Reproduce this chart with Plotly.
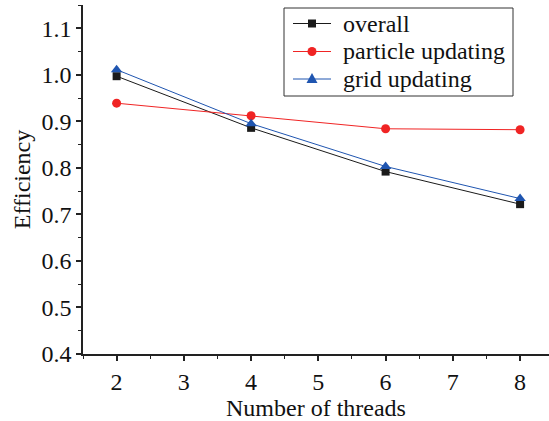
import plotly.graph_objects as go

threads = [2, 4, 6, 8]
overall = [0.997, 0.886, 0.792, 0.722]
particle_updating = [0.939, 0.912, 0.884, 0.882]
grid_updating = [1.011, 0.895, 0.803, 0.734]

series_names = ["overall", "particle updating", "grid updating"]
series_colors = ["#1a1a1a", "#f02424", "#1f55b0"]
series_symbols = ["square", "circle", "triangle-up"]

x_ticks = [2, 3, 4, 5, 6, 7, 8]
y_ticks = [0.4, 0.5, 0.6, 0.7, 0.8, 0.9, 1.0, 1.1]
y_tick_text = ["0.4", "0.5", "0.6", "0.7", "0.8", "0.9", "1.0", "1.1"]

FONT = "Liberation Serif, Times New Roman, serif"
AXIS_COLOR = "#222222"
TEXT_COLOR = "#111111"

W, H = 549, 421
M_L, M_R, M_T, M_B = 83, 0, 5, 67
PLOT_W = W - M_L - M_R
PLOT_H = H - M_T - M_B


def px(xp):
    """Pixel column -> paper x."""
    return (xp - M_L) / PLOT_W


def py(yp):
    """Pixel row -> paper y."""
    return (H - M_B - yp) / PLOT_H


fig = go.Figure()
series_values = [overall, particle_updating, grid_updating]
marker_sizes = [8, 9, 10]
for name, vals, color, sym, size in zip(series_names, series_values, series_colors,
                                        series_symbols, marker_sizes):
    fig.add_trace(go.Scatter(
        x=threads, y=vals, name=name, mode="lines+markers",
        line=dict(color=color, width=1),
        marker=dict(symbol=sym, size=size, color=color),
        showlegend=False,
    ))

axis_common = dict(
    showline=True, linecolor=AXIS_COLOR, linewidth=1.5, mirror=False,
    showgrid=False, zeroline=False,
    ticks="outside", ticklen=5, tickwidth=1.5, tickcolor=AXIS_COLOR,
    tickfont=dict(family=FONT, size=24, color=TEXT_COLOR),
)

fig.update_xaxes(
    range=[1.5, 8.43], tickvals=x_ticks,
    title=dict(text="Number of threads", font=dict(family=FONT, size=24, color=TEXT_COLOR), standoff=2),
    minor=dict(ticks="outside", ticklen=3, tickwidth=1.2, tickcolor=AXIS_COLOR, dtick=0.5, tick0=1.5),
    **axis_common,
)
fig.update_yaxes(
    range=[0.4, 1.15], tickvals=y_ticks, ticktext=y_tick_text,
    title=dict(text="Efficiency", font=dict(family=FONT, size=24, color=TEXT_COLOR), standoff=4),
    minor=dict(ticks="outside", ticklen=3, tickwidth=1.2, tickcolor=AXIS_COLOR, dtick=0.05, tick0=0.45),
    **axis_common,
)

# Boxed legend drawn with shapes and annotations
shapes = [dict(type="rect", xref="paper", yref="paper",
               x0=px(284), x1=px(513), y0=py(96), y1=py(8),
               line=dict(color="#333333", width=1), fillcolor="white", layer="above")]
annotations = []
row_y = [23.5, 51.5, 79]
for name, color, sym, ry in zip(series_names, series_colors, series_symbols, row_y):
    shapes.append(dict(type="line", xref="paper", yref="paper",
                       x0=px(293), x1=px(331), y0=py(ry), y1=py(ry),
                       line=dict(color=color, width=1), layer="above"))
    cx = 312
    if sym == "square":
        shapes.append(dict(type="rect", xref="paper", yref="paper",
                           x0=px(cx - 4), x1=px(cx + 4), y0=py(ry + 4), y1=py(ry - 4),
                           line=dict(width=0), fillcolor=color, layer="above"))
    elif sym == "circle":
        shapes.append(dict(type="circle", xref="paper", yref="paper",
                           x0=px(cx - 4.5), x1=px(cx + 4.5), y0=py(ry + 4.5), y1=py(ry - 4.5),
                           line=dict(width=0), fillcolor=color, layer="above"))
    else:
        path = "M {:.5f} {:.5f} L {:.5f} {:.5f} L {:.5f} {:.5f} Z".format(
            px(cx - 5.5), py(ry + 4), px(cx + 5.5), py(ry + 4), px(cx), py(ry - 6))
        shapes.append(dict(type="path", xref="paper", yref="paper", path=path,
                           line=dict(width=0), fillcolor=color, layer="above"))
    annotations.append(dict(xref="paper", yref="paper", x=px(341), y=py(ry),
                            xanchor="left", yanchor="middle", text=name, showarrow=False,
                            font=dict(family=FONT, size=24, color=TEXT_COLOR)))

fig.update_layout(
    width=W, height=H,
    margin=dict(l=M_L, r=M_R, t=M_T, b=M_B),
    paper_bgcolor="white", plot_bgcolor="white",
    font=dict(family=FONT, size=24, color=TEXT_COLOR),
    shapes=shapes, annotations=annotations,
)

fig.write_html("out.html")
